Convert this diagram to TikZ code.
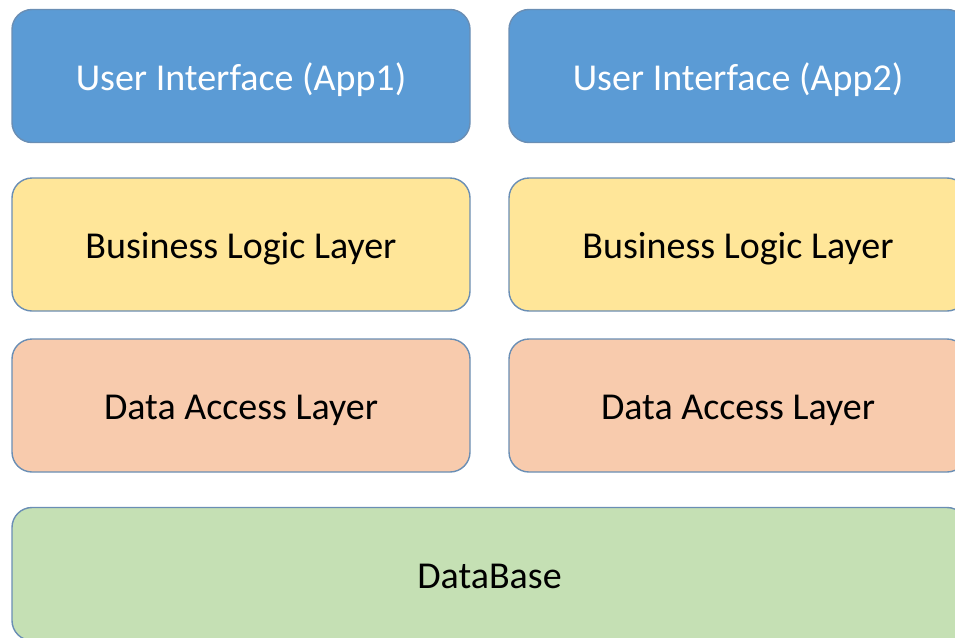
\documentclass[tikz,border=0pt]{standalone}
\usepackage{fontspec}
\setmainfont{Carlito}
\definecolor{uiblue}{HTML}{5B9BD5}
\definecolor{bllyellow}{HTML}{FFE699}
\definecolor{dalorange}{HTML}{F8CBAD}
\definecolor{dbgreen}{HTML}{C5E0B4}
\definecolor{edgeblue}{HTML}{6A8EB4}
\begin{document}
\begin{tikzpicture}[
    x=1pt, y=-1pt,
    layer/.style={rectangle, rounded corners=20pt, draw=edgeblue, line width=1.4pt,
        minimum width=458pt, minimum height=133pt, inner sep=0pt,
        text height=30pt, text depth=2pt, font=\fontsize{38}{44}\selectfont},
    ui/.style={layer, fill=uiblue, text=white},
    bll/.style={layer, fill=bllyellow},
    dal/.style={layer, fill=dalorange},
    db/.style={layer, fill=dbgreen, minimum width=955pt},
    ]
    \useasboundingbox (0,0) rectangle (955,637);
    \clip (0,0) rectangle (955,637);
    %Nodes
    \node[ui] at (241, 76) (ui1) {User Interface (App1)};
    \node[ui] at (738, 76) (ui2) {User Interface (App2)};
    \node[bll] at (241, 244.5) (bll1) {Business Logic Layer};
    \node[bll] at (738, 244.5) (bll2) {Business Logic Layer};
    \node[dal] at (241, 405.5) (dal1) {Data Access Layer};
    \node[dal] at (738, 405.5) (dal2) {Data Access Layer};
    \node[db] at (489.5, 574) (db) {DataBase};
\end{tikzpicture}
\end{document}
